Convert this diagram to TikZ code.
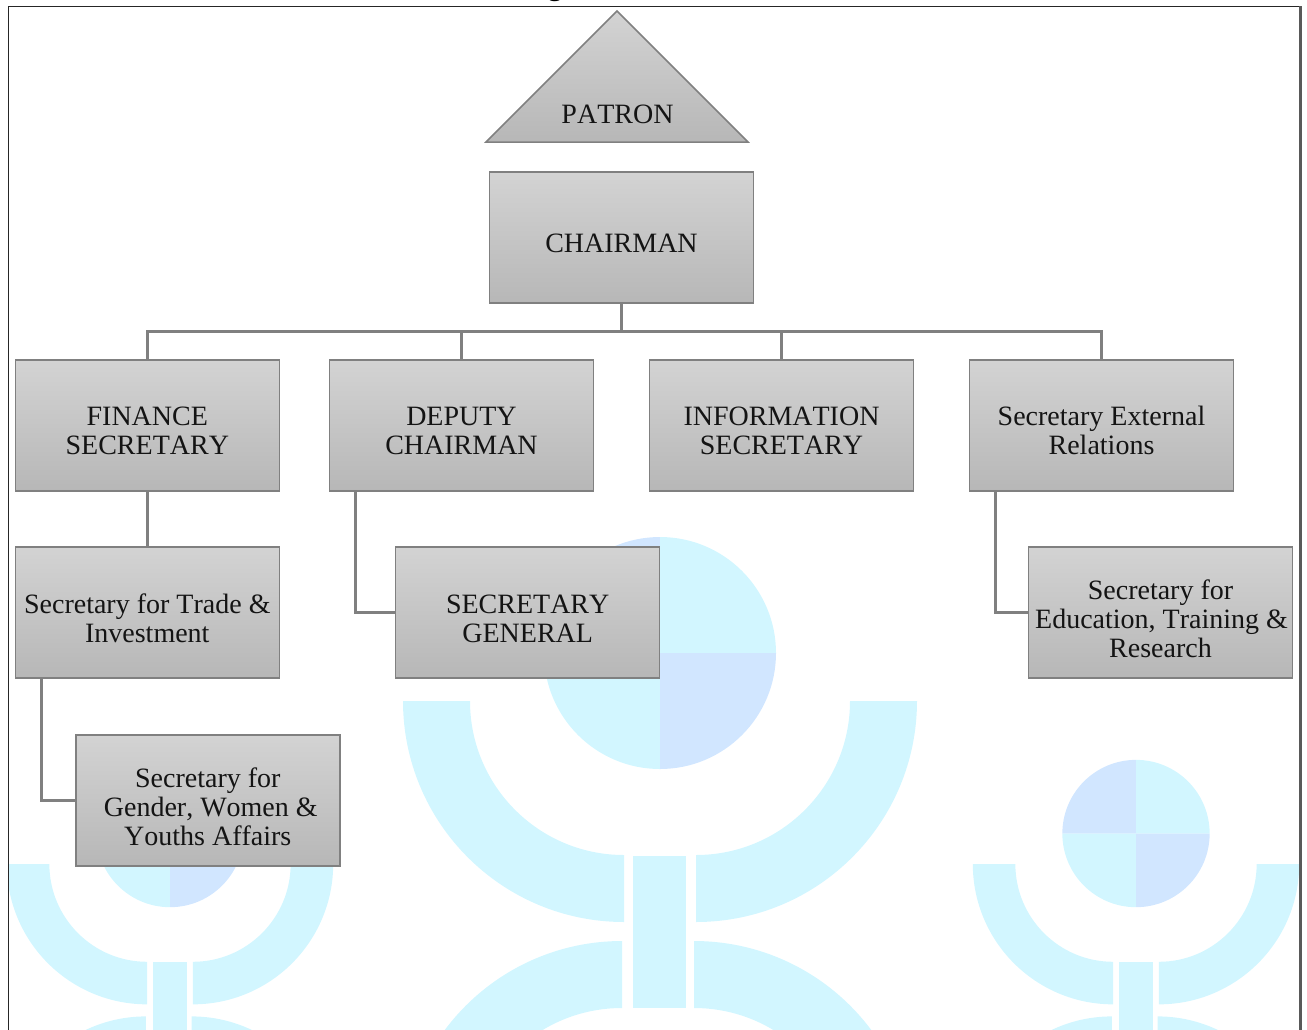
\documentclass[tikz,border=0pt]{standalone}
\usepackage{fontspec}
\setmainfont[Kerning=Off]{Liberation Serif}
\newcommand{\lbl}[2][-15.5pt]{\raisebox{#1}[0pt][0pt]{\begin{tabular}{@{}c@{}}#2\end{tabular}}}
\newcommand{\logomark}[3]{%
  \begin{scope}[shift={(#1,#2)},scale=#3]
    \begin{scope}\clip (-257,0) rectangle (-36,221);
      \fill[wmcyan,even odd rule] (-36,0) circle [radius=221] (-36,0) circle [radius=154];\end{scope}
    \begin{scope}\clip (36,0) rectangle (257,221);
      \fill[wmcyan,even odd rule] (36,0) circle [radius=221] (36,0) circle [radius=154];\end{scope}
    \fill[wmcyan] (-27,155) rectangle (26,307);
    \begin{scope}\clip (-260,240) rectangle (-38,461);
      \fill[wmcyan,even odd rule] (-38,461) circle [radius=221] (-38,461) circle [radius=154];\end{scope}
    \begin{scope}\clip (34,240) rectangle (256,461);
      \fill[wmcyan,even odd rule] (34,461) circle [radius=221] (34,461) circle [radius=154];\end{scope}
    \fill[wmblue] (0,-48) -- (-116,-48) arc[start angle=180,end angle=270,radius=116] -- cycle;
    \fill[wmcyan] (0,-48) -- (0,-164) arc[start angle=270,end angle=360,radius=116] -- cycle;
    \fill[wmcyan] (0,-48) -- (-116,-48) arc[start angle=180,end angle=90,radius=116] -- cycle;
    \fill[wmblue] (0,-48) -- (116,-48) arc[start angle=0,end angle=90,radius=116] -- cycle;
  \end{scope}}
\definecolor{wmcyan}{HTML}{D2F6FF}
\definecolor{wmblue}{HTML}{D1E6FF}
\definecolor{edgegray}{HTML}{808080}
\definecolor{linkgray}{HTML}{808080}
\definecolor{shadetop}{HTML}{D3D3D3}
\definecolor{shadebot}{HTML}{B7B7B7}
\tikzset{
  orgbox/.style={draw=edgegray,line width=1.5pt,top color=shadetop,bottom color=shadebot,
    minimum width=264pt,minimum height=131pt,inner sep=0pt,outer sep=0pt,anchor=north west,
    font=\fontsize{28}{29}\selectfont,text=black!92},
  link/.style={draw=linkgray,line width=3pt,line cap=butt},
  framepen/.style={line width=1.2pt,draw=black!85}
}
\begin{document}
\begin{tikzpicture}[x=1pt,y=-1pt]
\useasboundingbox (0,0) rectangle (1307,1029);
% watermark
\begin{scope}
  \clip (9,7) rectangle (1300,1029);
  \logomark{660}{701}{1}
  \logomark{170}{864}{0.635}
  \logomark{1136}{864}{0.635}
\end{scope}
% frame
\draw[framepen] (8.5,1040) -- (8.5,6.5) -- (1300.5,6.5);
\draw[line width=2.5pt,draw=black!65] (1300.5,6) -- (1300.5,1040);
\node[font=\bfseries\fontsize{28}{29}\selectfont,anchor=base] (cut) at (555,-5) {g};
% patron
\path[draw=edgegray,line width=1.5pt,top color=shadetop,bottom color=shadebot,line join=miter]
  (617,11) -- (748,142) -- (486,142) -- cycle;
\node[font=\fontsize{28}{29}\selectfont,text=black!92] (patron) at (617.5,114) {PATRON};
% boxes
\node[orgbox] (chair) at (489.5,172) {\lbl{CHAIRMAN}};
\node[orgbox] (fin) at (15.3,360) {\lbl[-14.5pt]{FINANCE\\SECRETARY}};
\node[orgbox] (dep) at (329.5,360) {\lbl[-14.5pt]{DEPUTY\\CHAIRMAN}};
\node[orgbox] (inf) at (649.5,360) {\lbl[-14.5pt]{INFORMATION\\SECRETARY}};
\node[orgbox] (ext) at (969.5,360) {\lbl[-14.5pt]{Secretary External\\Relations}};
\node[orgbox] (trade) at (15.3,547) {\lbl[-16pt]{Secretary for Trade \&\\Investment}};
\node[orgbox] (gen) at (395.7,547) {\lbl{SECRETARY\\GENERAL}};
\node[orgbox] (edu) at (1028.5,547) {\lbl[-16.5pt]{Secretary for\\\hspace*{2pt}Education, Training \&\\Research}};
\node[orgbox] (gender) at (75.8,735) {\lbl[-16.5pt]{Secretary for\\\hspace*{6pt}Gender, Women \&\\Youths Affairs}};
% connectors
\coordinate (bus) at (621.5,331);
\draw[link] (chair.south) -- (bus);
\draw[link] (fin.north) |- (bus);
\draw[link] (dep.north) |- (bus);
\draw[link] (inf.north) |- (bus);
\draw[link] (ext.north) |- (bus);
\draw[link] (fin.south) -- (trade.north);
\draw[link] ([xshift=26pt]dep.south west) |- (gen.west);
\draw[link] ([xshift=26pt]trade.south west) |- (gender.west);
\draw[link] ([xshift=26pt]ext.south west) |- (edu.west);
\end{tikzpicture}
\end{document}
